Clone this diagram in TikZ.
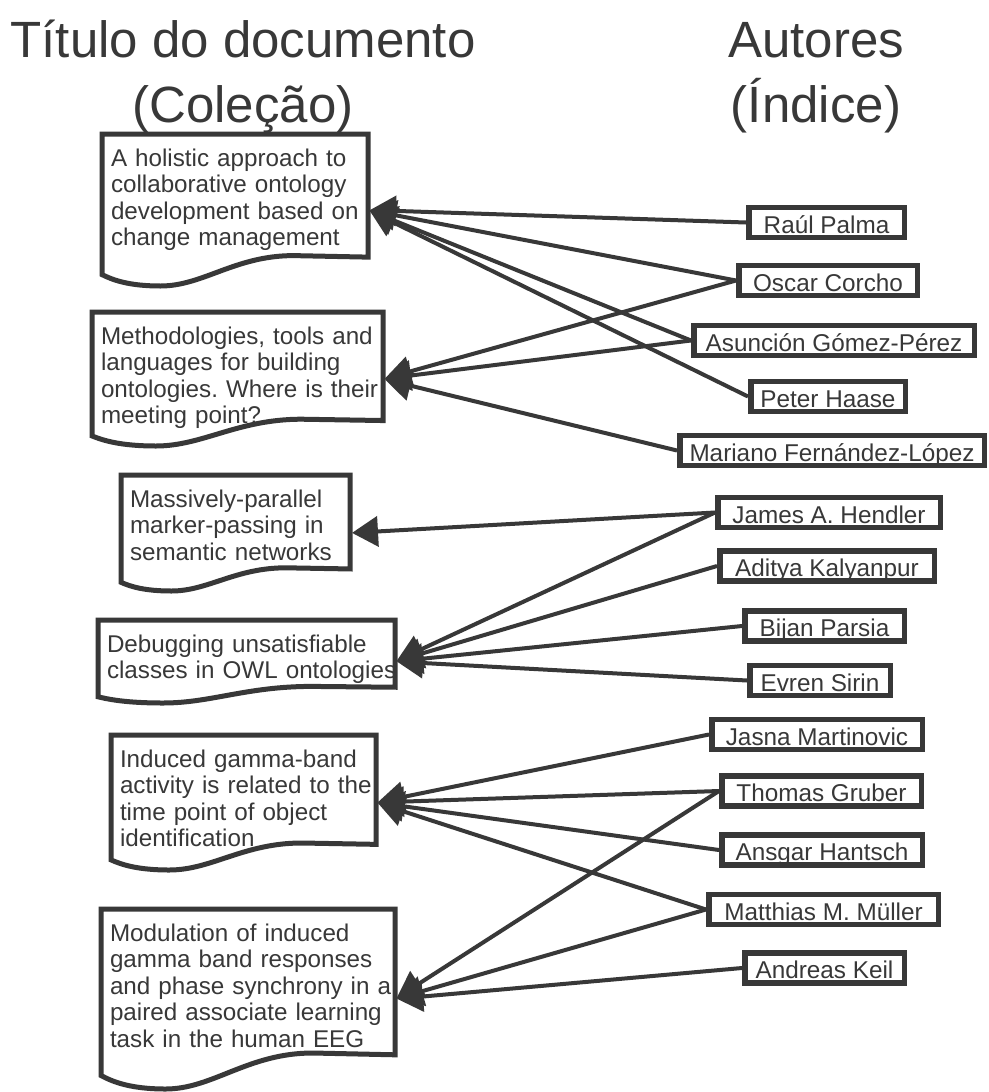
\documentclass[tikz,border=0pt]{standalone}
\usepackage{fontspec}
\setmainfont{Liberation Sans}
\usetikzlibrary{arrows.meta, calc}
\definecolor{inkGray}{HTML}{383838}
\tikzset{
    heading/.style={align=center, text=inkGray, font=\fontsize{51}{65}\selectfont, inner sep=0pt},
    doc/.style={rectangle, anchor=north west, inner xsep=9pt, inner ysep=0pt, outer sep=0pt, text height=32pt, align=left, text=inkGray, font=\fontsize{24.2}{26.5}\selectfont},
    docline/.style={draw=inkGray, line width=5pt, line join=miter},
    author/.style={rectangle, draw=inkGray, line width=5.5pt, inner sep=0pt, text height=25.5pt, text depth=4.5pt, minimum height=30pt, align=center, text=inkGray, font=\fontsize{24.3}{26}\selectfont},
    arrow/.style={-{Triangle[length=26pt, width=30pt]}, line width=4pt, draw=inkGray, shorten >=2pt},
}
% outline of a document node: flat top, wavy bottom
\newcommand{\docframe}[1]{%
  \draw[docline] let \p1=(#1.north west), \p2=(#1.south east), \n1={\y1-\y2}, \n2={\x2-\x1} in
    (\p1) -- (\x2,\y1) -- (\x2,{\y2+0.19*\n1})
    -- ({\x1+0.72*\n2},{\y2+0.2*\n1})
    .. controls ({\x1+0.5*\n2},{\y2+0.2*\n1}) and ({\x1+0.38*\n2},\y2) .. ({\x1+0.22*\n2},\y2)
    .. controls ({\x1+0.1*\n2},\y2) and ({\x1+0.04*\n2},{\y2+0.04*\n1}) .. (\x1,{\y2+0.075*\n1})
    -- cycle;}

\begin{document}
\begin{tikzpicture}[x=1pt, y=-1pt]
    \useasboundingbox[fill=white] (0,0) rectangle (988,1092);

    % column headings
    \node[heading, anchor=base] (colhead) at (243,122) {Título do documento\\(Coleção)};
    \node[heading, anchor=base] (idxhead) at (816,122) {Autores\\(Índice)};

    % documents
    \node[doc, text width=248pt, text depth=120pt] (holistic) at (102,134) {A holistic approach to\\collaborative ontology\\\mbox{development based on}\\change management};
    \node[doc, text width=273pt, text depth=102pt] (methods) at (92,312) {\mbox{Methodologies, tools and}\\languages for building\\\mbox{ontologies.\ Where is their}\\meeting point?};
    \node[doc, text width=211pt, text depth=84pt] (markers) at (121,475) {Massively-parallel\\marker-passing in\\semantic networks};
    \node[doc, text width=279pt, text depth=51pt] (debugging) at (98,620) {Debugging unsatisfiable\\\mbox{classes in OWL ontologies}};
    \node[doc, text width=247pt, text depth=103pt] (gamma) at (111,735) {Induced gamma-band\\\mbox{activity is related to the}\\time point of object\\identification};
    \node[doc, text width=276pt, text depth=148pt] (modulation) at (101,909) {Modulation of induced\\gamma band responses\\\mbox{and phase synchrony in a}\\\mbox{paired associate learning}\\task in the human EEG};
    \foreach \d in {holistic, methods, markers, debugging, gamma, modulation} \docframe{\d};

    % authors
    \node[author, minimum width=155.5pt] (palma) at (826.5,222.5) {Raúl Palma};
    \node[author, minimum width=178.5pt] (corcho) at (828,280.5) {Oscar Corcho};
    \node[author, minimum width=280.5pt] (gomez) at (834,340.5) {Asunción Gómez-Pérez};
    \node[author, minimum width=154.5pt] (haase) at (828,396.5) {Peter Haase};
    \node[author, minimum width=304.5pt] (fernandez) at (832,450.5) {Mariano Fernández-López};
    \node[author, minimum width=222.5pt] (hendler) at (829,512.5) {James A. Hendler};
    \node[author, minimum width=214.5pt] (kalyanpur) at (827,566) {Aditya Kalyanpur};
    \node[author, minimum width=159.5pt] (parsia) at (824.5,626) {Bijan Parsia};
    \node[author, minimum width=140.5pt] (sirin) at (820,680.5) {Evren Sirin};
    \node[author, minimum width=210.5pt] (martinovic) at (817,734.5) {Jasna Martinovic};
    \node[author, minimum width=199.5pt] (gruber) at (821.5,791) {Thomas Gruber};
    \node[author, minimum width=200.5pt] (hantsch) at (822,850) {Ansgar Hantsch};
    \node[author, minimum width=229.5pt] (muller) at (823.5,909.5) {Matthias M. Müller};
    \node[author, minimum width=159.5pt] (keil) at (824.5,968) {Andreas Keil};

    % authorship links
    \draw[arrow] (palma.west) -- (holistic.east);
    \draw[arrow] (corcho.west) -- (holistic.east);
    \draw[arrow] (gomez.west) -- (holistic.east);
    \draw[arrow] (haase.west) -- (holistic.east);
    \draw[arrow] (corcho.west) -- (methods.east);
    \draw[arrow] (gomez.west) -- (methods.east);
    \draw[arrow] (fernandez.west) -- (methods.east);
    \draw[arrow] (hendler.west) -- (markers.east);
    \draw[arrow] (hendler.west) -- (debugging.east);
    \draw[arrow] (kalyanpur.west) -- (debugging.east);
    \draw[arrow] (parsia.west) -- (debugging.east);
    \draw[arrow] (sirin.west) -- (debugging.east);
    \draw[arrow] (martinovic.west) -- (gamma.east);
    \draw[arrow] (gruber.west) -- (gamma.east);
    \draw[arrow] (hantsch.west) -- (gamma.east);
    \draw[arrow] (muller.west) -- (gamma.east);
    \draw[arrow] (gruber.west) -- (modulation.east);
    \draw[arrow] (muller.west) -- (modulation.east);
    \draw[arrow] (keil.west) -- (modulation.east);
\end{tikzpicture}
\end{document}
